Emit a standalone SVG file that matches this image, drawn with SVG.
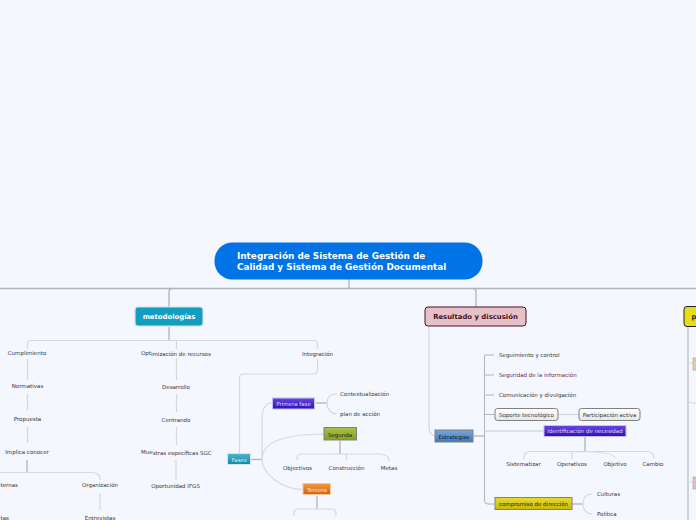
<svg xmlns="http://www.w3.org/2000/svg" width="696" height="520" viewBox="0 0 696 520">
<defs>
<linearGradient id="gBlue" x1="0" y1="0" x2="0" y2="1"><stop offset="0" stop-color="#7aa9dc"/><stop offset="1" stop-color="#3c78b8"/></linearGradient>
<linearGradient id="gPurple" x1="0" y1="0" x2="0" y2="1"><stop offset="0" stop-color="#6a46e0"/><stop offset="1" stop-color="#2f10b8"/></linearGradient>
<linearGradient id="gGreen" x1="0" y1="0" x2="0" y2="1"><stop offset="0" stop-color="#acc04a"/><stop offset="1" stop-color="#84a020"/></linearGradient>
<linearGradient id="gOrange" x1="0" y1="0" x2="0" y2="1"><stop offset="0" stop-color="#f09a40"/><stop offset="1" stop-color="#d85f10"/></linearGradient>
<linearGradient id="gTeal" x1="0" y1="0" x2="0" y2="1"><stop offset="0" stop-color="#4cb6ce"/><stop offset="1" stop-color="#128aa8"/></linearGradient>
<linearGradient id="gYellow" x1="0" y1="0" x2="0" y2="1"><stop offset="0" stop-color="#e6dc30"/><stop offset="1" stop-color="#c8b810"/></linearGradient>
<linearGradient id="gWhite" x1="0" y1="0" x2="0" y2="1"><stop offset="0" stop-color="#ffffff"/><stop offset="1" stop-color="#e6e6e6"/></linearGradient>
</defs>
<style>
text{font-family:"DejaVu Sans",Verdana,sans-serif;font-size:5.5px;fill:#35353f;text-anchor:middle}
.s{text-anchor:start}
.c{fill:none;stroke:#d6d8de;stroke-width:1.2}
.d{fill:none;stroke:#b4b4b4;stroke-width:1.3}
.n{stroke:#808080;stroke-width:1}
.k{fill:#1e1e14}
</style>
<rect width="696" height="520" fill="#f4f7fe"/>
<g id="connectors">
<path class="d" d="M349 279V288.500M0 288.500H696"/>
<path class="d" d="M169 307V292Q169 288.500 172 288.500M476 307V292Q476 288.500 473 288.500"/>
<path class="d" d="M169 327V340.500"/>
<path class="c" d="M27.500 349V344Q27.500 340.500 31 340.500H314Q317.500 340.500 317.500 344V349M176.500 340.500V349"/>
<path class="c" d="M27.500 359V380M27.500 394V410M27.500 427V443"/>
<path class="d" d="M27 460V472"/>
<path class="c" d="M0 472.500H92Q100 472.500 100 480"/>
<path class="c" d="M100 493V510"/>
<path class="c" d="M176.500 358V380M176.500 394V412M176.500 427V445M176 460V479"/>
<path class="c" d="M317.500 359V370Q317.500 374 314 374H243Q239.500 374 239.500 378V454"/>
<path class="c" d="M429 327V427Q429 436 436 436"/>
<path class="d" d="M251 459.500H262"/>
<path class="c" d="M262 459.500V420Q262 403 272 403M262 459.500C262 442 285 434 324 434M262 459.500C262 474 283 489.500 303 489.500"/>
<path class="d" d="M316 403H327"/>
<path class="c" d="M327 403C327 396 331 394 337 394M327 403C327 409 331 414 337 414"/>
<path class="d" d="M340 441V454"/>
<path class="c" d="M297 460V458Q297 454 303 454H379Q389 454 389 461M346.500 454V460"/>
<path class="d" d="M317 496V509"/>
<path class="c" d="M294 516V513Q294 509 298 509H332Q336 509 336 513V516"/>
<path class="d" d="M474 436H484.500"/>
<path class="d" style="stroke-width:1" d="M494 355H484.500V501Q484.500 504 488 504H494M484.500 375H494M484.500 395H494M484.500 414.500H494"/>
<path class="c" style="stroke-width:1.600" d="M484.500 431H544"/>
<path class="c" d="M558 414.500H579"/>
<path class="d" d="M585 437V451"/>
<path class="c" d="M524 459V457Q524 451.500 531 451.500H645Q654 451.500 654 458M572 451.500V459M572 451.500Q615 451.500 615 458"/>
<path class="d" d="M572 504H583"/>
<path class="c" d="M583 504C583 497 586 494 592 494M583 504C583 509 586 514 592 514"/>
<path class="c" style="stroke:#c4c6ce;stroke-width:1.500" d="M688 327V520"/>
<path class="c" d="M688 363H693M688 398Q688 403 693 403H696M688 482H693"/>
</g>
<g id="root"><rect x="214.500" y="242.500" width="268" height="37" rx="18" fill="#0073e6"/><text x="237" y="259" class="s" style="font-size:8.900px;font-weight:700;fill:#fff">Integración de Sistema de Gestión de</text><text x="237" y="270" class="s" style="font-size:8.900px;font-weight:700;fill:#fff">Calidad y Sistema de Gestión Documental</text></g>
<g id="metodologias"><rect x="135" y="307" width="68" height="19" rx="3" fill="#129ebf" stroke="#d8dce6" stroke-width="1.200"/><text x="169" y="319" style="font-size:6.900px;font-weight:700;fill:#fff">metodologías</text></g>
<g id="resultado"><rect x="425" y="307" width="101" height="19" rx="3" fill="#e6c2c8" stroke="#4a1020"/><text x="475.500" y="319" style="font-size:6.900px;font-weight:700;fill:#4a1020">Resultado y discusión</text></g>
<g id="p"><rect x="684" y="306.500" width="20" height="20" rx="3" fill="#e6de14" stroke="#222"/><text x="691.500" y="319" class="s k" style="font-size:6.900px;font-weight:700">p</text></g>
<g id="cumplimiento"><text x="27" y="355">Cumplimiento</text></g>
<g id="normativas"><text x="27.500" y="388">Normativas</text></g>
<g id="propuesta"><text x="27.500" y="421">Propuesta</text></g>
<g id="implica"><text x="27" y="454">Implica conocer</text></g>
<g id="ternas"><text x="0.500" y="487" class="s">ternas</text></g>
<g id="organizacion"><text x="100" y="487">Organización</text></g>
<g id="tas"><text x="0.500" y="520" class="s">tas</text></g>
<g id="entrevistas"><text x="100" y="520">Entrevistas</text></g>
<g id="optimizacion"><text x="141" y="354.500" class="s">Opt<tspan dy="1.300">imización de recursos</tspan></text></g>
<g id="desarrollo"><text x="176" y="389">Desarrollo</text></g>
<g id="centrando"><text x="176" y="422">Centrando</text></g>
<g id="muestras"><text x="141" y="454" class="s">Mue<tspan dy="1.200">stras específicas SGC</tspan></text></g>
<g id="oportunidad"><text x="175.500" y="488">Oportunidad IFGS</text></g>
<g id="integracion"><text x="317.500" y="355.500">Integración</text></g>
<g id="fases"><rect x="227.500" y="453.500" width="23" height="11" fill="url(#gTeal)" stroke="#d8e4ec"/><text x="239" y="461.500" style="fill:#dfeef4">Fases</text></g>
<g id="primera"><rect x="272.500" y="398" width="42" height="11" fill="url(#gPurple)" stroke="#c8c0f0"/><text x="293.500" y="405.500" style="fill:#dcd8f8">Primera fase</text></g>
<g id="contextualizacion"><text x="340" y="396" class="s">Contextualización</text></g>
<g id="plan"><text x="340" y="416" class="s">plan de acción</text></g>
<g id="segunda"><rect x="324" y="427.500" width="32.500" height="12.500" class="n" fill="url(#gGreen)"/><text x="340" y="436.500" class="k">Segunda</text></g>
<g id="objectivos"><text x="297.500" y="469.500">Objectivos</text></g>
<g id="construccion"><text x="346.500" y="469.500">Construcción</text></g>
<g id="metas"><text x="389" y="469.500">Metas</text></g>
<g id="tercera"><rect x="303" y="483.500" width="27.500" height="11" fill="url(#gOrange)" stroke="#f4c8a0"/><text x="317" y="491.500" style="fill:#fbe8d8">Tercera</text></g>
<g id="estrategias"><rect x="435" y="430" width="38" height="12" class="n" fill="url(#gBlue)"/><text x="454" y="438.500" class="k">Estrategias</text></g>
<g id="seguimiento"><text x="499" y="357" class="s">Seguimiento y control</text></g>
<g id="seguridad"><text x="499" y="377" class="s" style="fill:#6a2a48">Seguridad de la información</text></g>
<g id="comunicacion"><text x="499" y="397" class="s">Comunicación y divulgación</text></g>
<g id="soporte"><rect x="495" y="408.500" width="63" height="12" rx="2.500" class="n" fill="url(#gWhite)"/><text x="526.500" y="417">Soporte tecnológico</text></g>
<g id="participacion"><rect x="579" y="408.500" width="61" height="12" rx="2.500" class="n" fill="url(#gWhite)"/><text x="609.500" y="417">Participación activa</text></g>
<g id="identificacion"><rect x="544" y="425.500" width="82" height="11" fill="url(#gPurple)" stroke="#c8c0f0"/><text x="585" y="433" style="fill:#dcd8f8">Identificación de necesidad</text></g>
<g id="sistematizar"><text x="523.500" y="466">Sistematizar</text></g>
<g id="operativos"><text x="572" y="466">Operativos</text></g>
<g id="objetivo"><text x="615" y="466">Objetivo</text></g>
<g id="cambio"><text x="653" y="466">Cambio</text></g>
<g id="compromiso"><rect x="495" y="497.500" width="77" height="12" class="n" fill="url(#gYellow)"/><text x="533.500" y="506" class="k">compromiso de dirección</text></g>
<g id="culturas"><text x="597" y="496" class="s">Culturas</text></g>
<g id="politica"><text x="597" y="516" class="s">Política</text></g>
<g id="pa"><rect x="693" y="358" width="6" height="12" fill="#e0c8a8" stroke="#bbb"/></g>
<g id="pb"><rect x="693" y="477" width="6" height="12" fill="#e0bcc0" stroke="#bbb"/></g>
</svg>
